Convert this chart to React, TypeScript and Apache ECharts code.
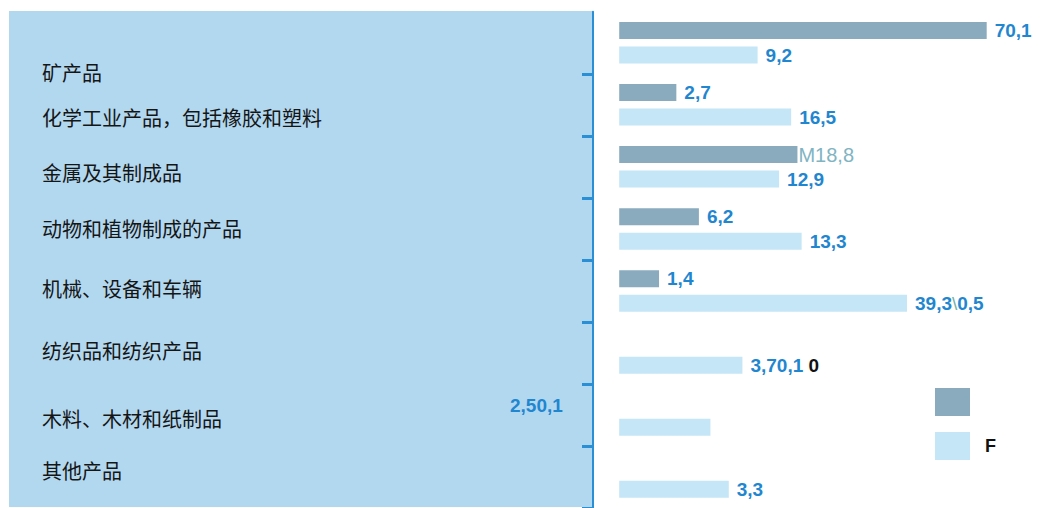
import React, { useEffect, useRef } from "react";
import * as echarts from "echarts";

const categories = [
  "矿产品",
  "化学工业产品，包括橡胶和塑料",
  "金属及其制成品",
  "动物和植物制成的产品",
  "机械、设备和车辆",
  "纺织品和纺织产品",
  "木料、木材和纸制品",
  "其他产品",
];
// bar lengths as drawn (same scale as the 70,1 bar)
const darkValues: (number | null)[] = [70.1, 10.9, 34.0, 15.2, 7.6, null, null, null];
const lightValues: (number | null)[] = [26.4, 32.8, 30.5, 34.8, 54.9, 23.5, 17.4, 20.9];
// label texts as printed
const darkLabels = ["70,1", "2,7", "M18,8", "6,2", "1,4", "", "", ""];
const lightLabels = ["9,2", "16,5", "12,9", "13,3", "39,3\\0,5", "3,70,1 0", "", "3,3"];
const strayLabel = "2,50,1";
const legendNames = [" ", "F"];

const BLUE = "#1f86cf";
const DARK = "#8aabbe";
const LIGHT = "#c4e6f6";
const NUM_FONT = '"Liberation Sans Narrow", "Liberation Sans", Arial, sans-serif';
const NUM_SIZE = 19;

// positions of the left-hand category texts (layout only)
const labelY = [72, 117, 172, 228, 288, 350, 418, 470];

function decorate(s: string): string {
  if (s.startsWith("M")) return "{m|" + s + "}";
  let out = s;
  if (out.includes("\\")) {
    const [a, b] = out.split("\\");
    out = a + "{s|\\}" + b;
  }
  if (out.endsWith(" 0")) {
    out = out.slice(0, -2) + "{k| 0}";
  }
  return out;
}

const rich = {
  m: {
    color: "#80b4c2",
    fontFamily: '"Liberation Sans", Arial, sans-serif',
    fontWeight: "normal",
    fontSize: 20,
  },
  s: {
    color: "#6fb3aa",
    fontFamily: NUM_FONT,
    fontWeight: "normal",
    fontSize: NUM_SIZE,
  },
  k: {
    color: "#111111",
    fontFamily: NUM_FONT,
    fontWeight: "bold",
    fontSize: NUM_SIZE,
  },
};

export default function App() {
  const ref = useRef<HTMLDivElement>(null);
  useEffect(() => {
    if (!ref.current) return;
    const chart = echarts.init(ref.current, undefined, { renderer: "svg" });
    const labelBase = {
      show: true,
      position: "right",
      distance: 8,
      color: BLUE,
      fontFamily: NUM_FONT,
      fontWeight: "bold",
      fontSize: NUM_SIZE,
      rich,
    };
    chart.setOption({
      animation: false,
      backgroundColor: "#ffffff",
      grid: { left: 593, top: 11.8, width: 445.6, height: 497.6, containLabel: false },
      xAxis: {
        type: "value",
        min: -5,
        max: 80,
        show: false,
        splitLine: { show: false },
      },
      yAxis: {
        type: "category",
        data: categories,
        inverse: true,
        axisLabel: { show: false },
        axisLine: { show: true, onZero: false, lineStyle: { color: "#2b8fd6", width: 2 } },
        axisTick: {
          show: true,
          length: 11,
          interval: (index: number) => index !== 0,
          lineStyle: { color: "#2b8fd6", width: 3 },
        },
        splitLine: { show: false },
      },
      legend: {
        left: 935,
        top: 388,
        padding: 0,
        orient: "vertical",
        itemWidth: 35,
        itemHeight: 28,
        itemGap: 16,
        icon: "rect",
        data: legendNames,
        textStyle: {
          color: "#111111",
          fontFamily: NUM_FONT,
          fontWeight: "bold",
          fontSize: 18,
          padding: [0, 0, 0, 10],
        },
      },
      series: [
        {
          name: legendNames[0],
          type: "bar",
          barWidth: 17,
          barGap: "44%",
          itemStyle: { color: DARK },
          data: darkValues.map((v, i) => ({
            value: v,
            label: { show: !!darkLabels[i], distance: darkLabels[i].startsWith("M") ? 1 : 8 },
          })),
          label: {
            ...labelBase,
            formatter: (p: any) => decorate(darkLabels[p.dataIndex]),
          },
        },
        {
          name: legendNames[1],
          type: "bar",
          barWidth: 17,
          itemStyle: { color: LIGHT },
          data: lightValues.map((v, i) => ({
            value: v,
            label: { show: !!lightLabels[i] },
          })),
          label: {
            ...labelBase,
            formatter: (p: any) => decorate(lightLabels[p.dataIndex]),
          },
        },
      ],
      graphic: [
        {
          type: "rect",
          z: -10,
          shape: { x: 9, y: 11, width: 584, height: 496 },
          style: { fill: "#b2d8f0" },
        },
        ...categories.map((c, i) => ({
          type: "text",
          x: 42,
          y: labelY[i],
          style: {
            text: c,
            fill: "#151515",
            font: '20px "Noto Sans CJK SC", sans-serif',
            verticalAlign: "middle",
          },
        })),
        {
          type: "text",
          x: 510,
          y: 405,
          style: {
            text: strayLabel,
            fill: BLUE,
            font: "bold " + NUM_SIZE + "px " + NUM_FONT,
            verticalAlign: "middle",
          },
        },
      ],
    });
    return () => chart.dispose();
  }, []);
  return (
    <div
      ref={ref}
      style={{ position: "fixed", left: 0, top: 0, width: 1045, height: 508, background: "#fff" }}
    />
  );
}
